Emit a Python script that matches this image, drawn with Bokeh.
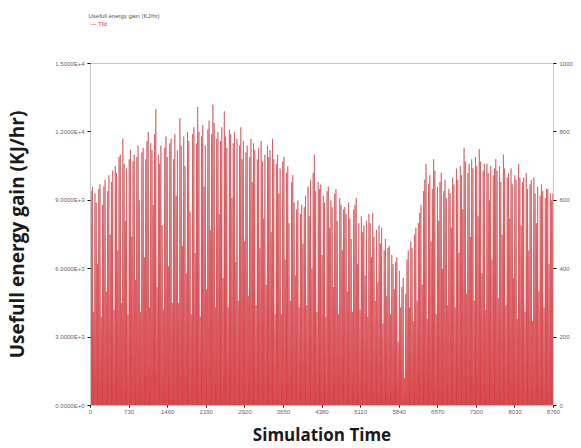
from bokeh.plotting import figure
from bokeh.models import Range1d, LinearAxis, FixedTicker, Title
from bokeh.embed import file_html
from bokeh.resources import INLINE

# Daily peak useful energy gain, in thousands of kJ/hr
gain_k = [
    9.4, 9.6, 4.1, 9.3, 8.9, 6.2, 9.5, 9.7, 3.9, 8.8, 9.6, 9.9, 5.0, 9.4, 10.1, 7.5, 9.8, 10.3, 4.2, 10.5,
    10.2, 6.8, 10.9, 11.0, 4.5, 11.7, 10.6, 8.1, 10.4, 4.0, 10.8, 11.2, 7.4, 10.7, 11.0, 5.5, 10.9, 11.4, 9.0, 4.1,
    11.1, 11.3, 6.5, 10.8, 11.6, 12.0, 4.3, 11.5, 11.2, 8.8, 11.9, 13.0, 5.2, 11.0, 10.6, 11.4, 7.9, 4.2, 11.3, 11.8,
    10.9, 6.1, 11.5, 11.7, 4.5, 10.8, 11.9, 9.2, 11.2, 4.5, 12.6, 11.4, 7.0, 11.8, 10.5, 5.8, 12.0, 11.6, 8.5, 4.0,
    11.9, 12.2, 6.7, 11.5, 13.1, 12.0, 3.9, 11.8, 12.3, 9.6, 11.4, 5.1, 12.1, 12.5, 7.7, 11.9, 13.2, 12.4, 4.3, 11.7,
    12.0, 8.4, 11.6, 12.2, 5.6, 12.9, 11.8, 11.3, 4.3, 12.1, 11.9, 9.1, 11.5, 12.0, 6.3, 11.7, 4.6, 11.4, 12.2, 10.8,
    11.6, 7.2, 11.1, 11.4, 4.8, 10.9, 11.7, 9.8, 11.5, 11.2, 4.4, 10.8, 11.3, 6.9, 11.6, 10.7, 8.2, 11.0, 5.3, 11.4,
    10.9, 11.2, 7.6, 11.7, 10.8, 4.0, 10.6, 11.0, 9.3, 10.4, 4.0, 10.7, 10.9, 6.4, 10.2, 10.5, 8.0, 4.6, 9.8, 10.1,
    8.9, 5.7, 8.6, 9.0, 4.3, 8.4, 8.8, 7.1, 8.7, 9.2, 4.4, 9.6, 8.3, 9.9, 6.0, 10.2, 11.0, 9.4, 4.1, 9.8,
    9.5, 9.7, 6.6, 9.2, 8.9, 3.9, 9.4, 9.6, 7.8, 9.0, 8.7, 5.2, 9.3, 9.5, 8.1, 4.0, 9.1, 8.8, 6.8, 8.6,
    8.7, 8.4, 5.0, 8.9, 8.2, 7.3, 4.1, 8.6, 8.8, 9.1, 6.2, 8.0, 4.2, 8.3, 7.6, 7.9, 5.7, 8.1, 3.9, 8.4,
    8.0, 6.5, 8.45, 7.4, 4.6, 7.7, 5.4, 7.9, 7.1, 7.8, 3.6, 6.8, 7.3, 4.8, 6.9, 7.0, 4.0, 6.6, 6.2, 5.1,
    6.3, 6.5, 2.8, 5.9, 4.3, 5.2, 5.6, 1.2, 4.9, 6.4, 6.8, 4.3, 7.2, 6.9, 3.7, 7.5, 7.8, 4.6, 8.0, 8.45,
    8.8, 5.3, 9.4, 9.9, 10.6, 3.8, 9.7, 10.1, 7.2, 9.5, 10.8, 10.3, 4.0, 9.6, 8.1, 9.8, 10.2, 6.0, 9.4, 9.9,
    9.1, 4.4, 9.5, 9.3, 7.8, 10.0, 9.7, 4.3, 10.4, 9.9, 6.7, 10.5, 10.1, 8.6, 11.3, 10.7, 4.9, 10.2, 10.6, 7.4,
    10.8, 10.4, 4.6, 10.9, 10.5, 8.3, 11.25, 10.7, 5.8, 10.3, 10.6, 4.2, 10.6, 10.2, 9.0, 10.5, 6.4, 10.1, 10.4, 10.8,
    10.3, 4.7, 10.5, 9.8, 7.5, 11.0, 10.4, 4.4, 10.0, 10.2, 8.2, 10.4, 9.7, 5.6, 10.1, 9.9, 3.8, 10.6, 10.0, 7.9,
    9.8, 10.0, 4.1, 10.2, 9.5, 6.8, 9.7, 9.9, 3.7, 10.0, 9.3, 8.0, 9.6, 5.0, 9.2, 9.7, 9.4, 4.3, 9.1, 9.5,
    9.5, 6.2, 9.3, 9.0, 9.3,
]

x_ticks = [0, 730, 1460, 2190, 2920, 3650, 4380, 5110, 5840, 6570, 7300, 8030, 8760]
y_ticks = [0, 3000, 6000, 9000, 12000, 15000]
y_tick_labels = ["0.0000E+0", "3.0000E+3", "6.0000E+3", "9.0000E+3", "1.2000E+4", "1.5000E+4"]
y2_ticks = [0, 200, 400, 600, 800, 1000]
legend_names = ["Usefull energy gain (KJ/hr)", "Tfd"]

HOURS_PER_DAY = 24
gain = [v * 1000 for v in gain_k]

p = figure(width=581, height=448, output_backend="svg", toolbar_location=None,
           x_range=Range1d(0, 8760), y_range=Range1d(0, 15000),
           min_border_left=90, min_border_right=28, min_border_top=63, min_border_bottom=37)
p.background_fill_color = "white"
p.border_fill_color = "white"
p.outline_line_color = "#c8c8c8"
p.xgrid.visible = False
p.ygrid.visible = False

# each day drawn as a spike: rises in the early morning, peaks at noon, back to zero at night
xs, ys = [], []
for d, g in enumerate(gain):
    base = d * HOURS_PER_DAY
    xs.append([base + 2, base + 12, base + 22])
    ys.append([0, g, 0])
p.patches(xs, ys, fill_color="#e0262c", fill_alpha=0.85, line_color="#cf3a40", line_width=0.7, line_alpha=0.8)

tick_font = "6px"
lab_col = "#666666"

p.xaxis.ticker = FixedTicker(ticks=x_ticks)
p.xaxis.axis_label = "Simulation Time"
p.xaxis.axis_label_text_font = "Open Sans"
p.xaxis.axis_label_text_font_style = "bold"
p.xaxis.axis_label_text_font_size = "17px"
p.xaxis.axis_label_text_color = "#1a1a1a"
p.xaxis.axis_label_standoff = 6
p.xaxis.major_label_text_font_size = tick_font
p.xaxis.major_label_text_color = lab_col
p.xaxis.major_label_standoff = 2
p.xaxis.major_tick_out = 2
p.xaxis.major_tick_in = 0
p.xaxis.minor_tick_line_color = None
p.xaxis.axis_line_color = "#c8c8c8"

p.yaxis.ticker = FixedTicker(ticks=y_ticks)
p.yaxis.major_label_overrides = {t: l for t, l in zip(y_ticks, y_tick_labels)}
p.yaxis.axis_label = "Usefull energy gain (KJ/hr)"
p.yaxis.axis_label_text_font = "Open Sans"
p.yaxis.axis_label_text_font_style = "bold"
p.yaxis.axis_label_text_font_size = "19px"
p.yaxis.axis_label_text_color = "#1a1a1a"
p.yaxis.axis_label_standoff = 22
p.yaxis.major_label_text_font_size = tick_font
p.yaxis.major_label_text_color = lab_col
p.yaxis.major_label_standoff = 3
p.yaxis.major_label_orientation = "horizontal"
p.yaxis.major_tick_out = 3
p.yaxis.major_tick_in = 0
p.yaxis.minor_tick_line_color = None
p.yaxis.axis_line_color = "#c8c8c8"

p.extra_y_ranges = {"right": Range1d(0, 1000)}
ax2 = LinearAxis(y_range_name="right", ticker=FixedTicker(ticks=y2_ticks))
ax2.major_label_text_font_size = tick_font
ax2.major_label_text_color = lab_col
ax2.major_label_standoff = 3
ax2.major_tick_out = 3
ax2.major_tick_in = 0
ax2.minor_tick_line_color = None
ax2.axis_line_color = "#c8c8c8"
p.add_layout(ax2, "right")

# legend lines at the top-left, stacked above the frame with a blank spacer under them
p.add_layout(Title(text=" ", text_font_size="31px", standoff=0), "above")
p.add_layout(Title(text="— " + legend_names[1], text_font_size="6px", text_font_style="normal",
                   text_color="#e0262c", align="left", offset=0, standoff=0), "above")
p.add_layout(Title(text=legend_names[0], text_font_size="6px", text_font_style="normal",
                   text_color="#555555", align="left", offset=-2, standoff=0), "above")

open("out.html", "w").write(file_html(p, INLINE))
